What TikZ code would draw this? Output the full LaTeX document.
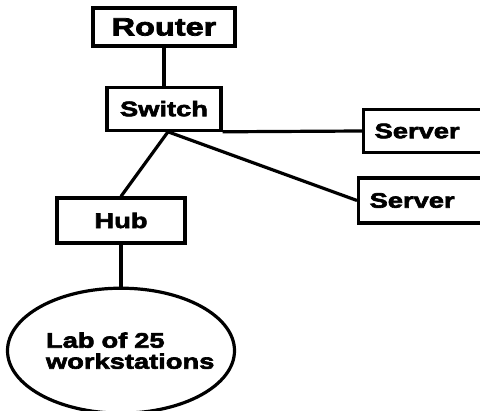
\documentclass[tikz,border=0pt]{standalone}
\usepackage{fontspec}
\setmainfont{Liberation Sans}[FakeStretch=1.3, BoldFeatures={FakeBold=3}]
\usetikzlibrary{positioning,shapes.geometric}
\newcommand{\netfont}{\fontsize{21}{21}\selectfont\bfseries}
\newcommand{\routerfont}{\fontsize{25}{25}\selectfont\bfseries}
\tikzset{
  netbox/.style={draw, line width=3.2pt, inner sep=0pt, font=\netfont},
  srvbox/.style={netbox, anchor=west, text width=110pt, align=left, inner xsep=11pt},
  lanblob/.style={draw, ellipse, line width=3.2pt, inner sep=0pt, text width=150pt,
                  align=left, minimum width=227pt, minimum height=125pt, font=\netfont},
  wire/.style={line width=3.2pt},
}

\begin{document}
\begin{tikzpicture}[x=1pt, y=-1pt]
  \clip (0,0) rectangle (480,411);
  % devices
  \node[netbox, minimum width=142pt, minimum height=38pt, font=\routerfont] (router) at (164,27) {Router};
  \node[netbox, minimum width=114pt, minimum height=43pt, below=38pt of router] (switch) {Switch};
  \node[srvbox, minimum height=43pt] (srvA) at (362,131) {Server};
  \node[srvbox, minimum height=45pt] (srvB) at (357,200.5) {Server};
  \node[netbox, minimum width=128pt, minimum height=45pt] (hub) at (121,220.5) {Hub};
  \node[lanblob, below=42pt of hub] (lab) {Lab of 25\\workstations};
  % cabling
  \coordinate[xshift=4pt] (fork) at (switch.south);
  \draw[wire] (router) -- (switch);
  \draw[wire] (switch.south east) -- (srvA.west);
  \draw[wire] (fork) -- (srvB.west);
  \draw[wire] (fork) -- (hub.north);
  \draw[wire] (hub) -- (lab);
\end{tikzpicture}
\end{document}
